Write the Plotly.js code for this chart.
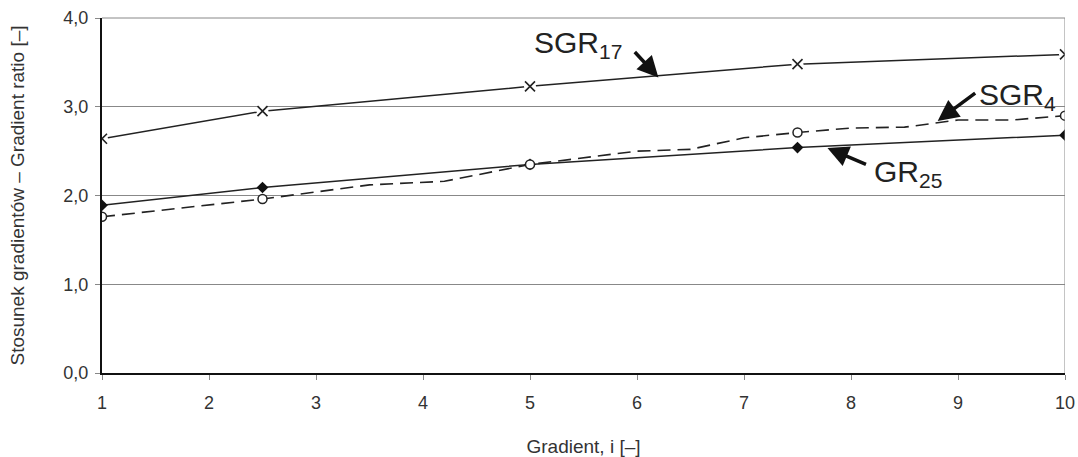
<!DOCTYPE html>
<html>
<head>
<meta charset="utf-8">
<script src="https://cdn.plot.ly/plotly-3.0.1.min.js"></script>
<style>html,body{margin:0;padding:0;background:#fff;}#chart{width:1078px;height:457px;}</style>
</head>
<body>
<div id="chart"></div>
<script>
// Data
var gradient = [1, 2.5, 5, 7.5, 10];
var sgr17 = [2.64, 2.95, 3.23, 3.48, 3.59];
var gr25 = [1.89, 2.09, 2.35, 2.54, 2.68];
var sgr4 = [1.76, 1.96, 2.35, 2.71, 2.90];
// SGR4 measured curve (dashed) with intermediate readings
var sgr4CurveX = [1, 2.5, 3.5, 4.2, 5, 6, 6.5, 7, 7.5, 8, 8.5, 9, 9.5, 10];
var sgr4CurveY = [1.76, 1.96, 2.12, 2.16, 2.35, 2.50, 2.52, 2.65, 2.71, 2.76, 2.77, 2.85, 2.85, 2.90];
var xTicks = [1, 2, 3, 4, 5, 6, 7, 8, 9, 10];
var yTicks = [0, 1, 2, 3, 4];

var traces = [
  {x: gradient, y: sgr17, mode: 'lines', line: {color: '#222', width: 1.5}, hoverinfo: 'skip'},
  {x: gradient, y: sgr17, mode: 'markers', marker: {symbol: 'circle', size: 12, color: '#fff'}, hoverinfo: 'skip'},
  {x: gradient, y: sgr17, mode: 'markers', marker: {symbol: 'x-thin', size: 10, line: {color: '#222', width: 1.6}}},
  {x: gradient, y: gr25, mode: 'lines+markers', line: {color: '#222', width: 1.5},
   marker: {symbol: 'diamond', size: 9, color: '#111'}},
  {x: sgr4CurveX, y: sgr4CurveY, mode: 'lines', line: {color: '#222', width: 1.6, dash: '13px,7px'}, hoverinfo: 'skip'},
  {x: gradient, y: sgr4, mode: 'markers', marker: {symbol: 'circle', size: 9, color: '#fff', line: {color: '#222', width: 1.5}}}
];

var fam = 'Liberation Sans, Arial, sans-serif';

var layout = {
  width: 1078, height: 457,
  margin: {l: 102, r: 13, t: 18, b: 84},
  paper_bgcolor: '#fff', plot_bgcolor: '#fff',
  showlegend: false,
  separators: ', ',
  font: {family: fam, color: '#333', size: 18},
  xaxis: {
    range: [1, 10], tickvals: xTicks, ticks: 'outside', ticklen: 5, tickcolor: '#888', tickwidth: 1,
    ticklabelstandoff: 7,
    showgrid: false, zeroline: false, showline: true, linecolor: '#111', linewidth: 2,
    tickfont: {family: fam, size: 18, color: '#333'},
    title: {text: 'Gradient, i [\u2013]', font: {family: fam, size: 19, color: '#333'}, standoff: 28}
  },
  yaxis: {
    range: [0, 4], tickvals: yTicks, tickformat: '.1f', ticks: 'outside', ticklen: 5, tickcolor: '#888', tickwidth: 1,
    ticklabelstandoff: 3,
    showgrid: true, gridcolor: '#888', gridwidth: 1, zeroline: false,
    showline: true, linecolor: '#111', linewidth: 2,
    tickfont: {family: fam, size: 18, color: '#333'},
    title: {text: 'Stosunek gradientów \u2013 Gradient ratio [\u2013]', font: {family: fam, size: 19, color: '#333'}, standoff: 34}
  },
  shapes: [
    {type: 'line', xref: 'x', yref: 'paper', x0: 10, x1: 10, y0: 0, y1: 1, line: {color: '#888', width: 1}},
    {type: 'line', xref: 'paper', yref: 'paper', x0: 0, x1: 1, y0: 1, y1: 1, line: {color: '#888', width: 1}}
  ],
  annotations: [
    {x: 5.45, y: 3.70, xref: 'x', yref: 'y', text: 'SGR<sub>17</sub>', showarrow: false, xanchor: 'center', yanchor: 'middle',
     font: {family: fam, size: 30, color: '#222'}},
    {x: 6.2, y: 3.33, xref: 'x', yref: 'y', text: '', showarrow: true, arrowhead: 2, arrowsize: 1.2, arrowwidth: 3.5,
     arrowcolor: '#111', ax: -25, ay: -27},
    {x: 9.56, y: 3.12, xref: 'x', yref: 'y', text: 'SGR<sub>4</sub>', showarrow: false, xanchor: 'center', yanchor: 'middle',
     font: {family: fam, size: 30, color: '#222'}},
    {x: 8.81, y: 2.84, xref: 'x', yref: 'y', text: '', showarrow: true, arrowhead: 2, arrowsize: 1.2, arrowwidth: 3.5,
     arrowcolor: '#111', ax: 39, ay: -29},
    {x: 8.53, y: 2.25, xref: 'x', yref: 'y', text: 'GR<sub>25</sub>', showarrow: false, xanchor: 'center', yanchor: 'middle',
     font: {family: fam, size: 30, color: '#222'}},
    {x: 7.78, y: 2.535, xref: 'x', yref: 'y', text: '', showarrow: true, arrowhead: 2, arrowsize: 1.2, arrowwidth: 3.5,
     arrowcolor: '#111', ax: 40, ay: 17}
  ]
};

Plotly.newPlot('chart', traces, layout, {displayModeBar: false, staticPlot: true});
</script>
</body>
</html>
